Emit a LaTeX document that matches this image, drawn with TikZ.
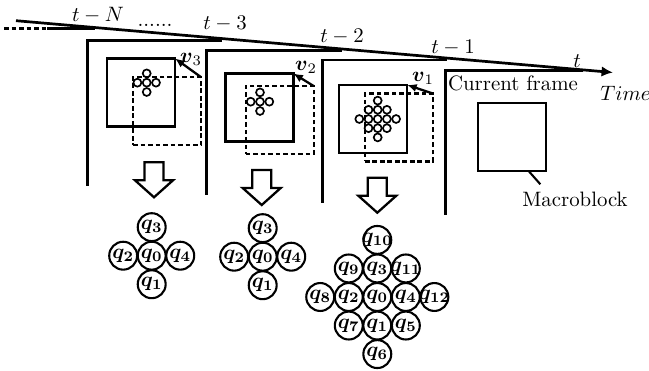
\documentclass[tikz,border=0pt]{standalone}
\usepackage{amsmath}
\usepackage{amssymb}
\usetikzlibrary{arrows.meta,positioning}

% label of a candidate block, kept out of the circle's size
\newcommand{\qlab}[1]{\makebox[0pt]{$\boldsymbol{q_{#1}}$}}

\begin{document}
\begin{tikzpicture}[x=0.48pt,y=-0.48pt,node distance=13.7pt,on grid,
    frm/.style={line width=1.2pt},
    blk/.style={draw,line width=1.1pt,minimum size=32.6pt,inner sep=0pt,outer sep=0pt},
    mv/.style={blk,dash pattern=on 2.2pt off 1.4pt},
    pel/.style={circle,draw,line width=0.8pt,minimum size=3.8pt,inner sep=0pt},
    qn/.style={circle,draw,line width=1pt,minimum size=13.4pt,inner sep=0pt},
    vec/.style={line width=1.1pt,-{Latex[length=4.5pt,width=4pt]}},
    hollow/.pic={\draw[line width=1.1pt] (0,0) -- (-19,-17) -- (-9.5,-17) -- (-9.5,-35)
      -- (9.5,-35) -- (9.5,-17) -- (19,-17) -- cycle;}]
  \useasboundingbox (0,0) rectangle (649,371);

  % time axis
  \coordinate (t0) at (16,20.7);
  \coordinate (t1) at (613,72.5);
  \draw[line width=1.3pt,-{Latex[length=5.5pt,width=5pt]}] (t0) -- (t1);

  % frames
  \draw[frm,dash pattern=on 2.2pt off 1.4pt] (4,28.7) -- (47,28.7);
  \draw[frm] (47,28.7) -- (95,28.7);
  \draw[frm] (87.3,186) |- (222,40.7);
  \draw[frm] (206.7,195) |- (342,50.7);
  \draw[frm] (322.5,203) |- (447,60);
  \draw[frm] (445.5,215) |- (583,70.7);

  \node (lN) at (98,15) {$t-N$};
  \node (ldots) at (155,25) {......};
  \node (l3) at (225,24) {$t-3$};
  \node (l2) at (342,37) {$t-2$};
  \node (l1) at (453,48) {$t-1$};
  \node (l0) at (577,61) {$t$};
  \node[anchor=west,inner sep=0pt] (ltime) at (600,93) {$Time$};

  % current frame
  \node (lcur) at (513,83) {Current frame};
  \node[blk] (mb) at (512,137) {};
  \node (lmb) at (575,199) {Macroblock};
  \draw[line width=1pt] (mb.-64) -- (lmb.157);

  % frame t-3
  \node[blk] (ref3) at (141.2,92.5) {};
  \node[mv] (cur3) at (167.2,111.2) {};
  \draw[vec] (cur3.north east) -- (ref3.north east);
  \node (v3) at (191,59) {$\boldsymbol{v}_3$};
  \foreach \i/\j in {0/0,1/0,-1/0,0/1,0/-1}
    \node[pel] (pa\i\j) at (146.7+9.3*\i,82.7+9.3*\j) {};

  % frame t-2
  \node[blk] (ref2) at (259.5,107.5) {};
  \node[mv] (cur2) at (279.7,120) {};
  \draw[vec] (cur2.north east) -- (ref2.north east);
  \node (v2) at (306,67) {$\boldsymbol{v}_2$};
  \foreach \i/\j in {0/0,1/0,-1/0,0/1,0/-1}
    \node[pel] (pb\i\j) at (260+9.3*\i,101.7+9.3*\j) {};

  % frame t-1
  \node[blk] (ref1) at (373.3,118.9) {};
  \node[mv] (cur1) at (398.9,127.5) {};
  \draw[vec] (cur1.north east) -- (ref1.north east);
  \node (v1) at (423,78) {$\boldsymbol{v}_1$};
  \foreach \i/\j in {0/-2,-1/-1,0/-1,1/-1,-2/0,-1/0,0/0,1/0,2/0,-1/1,0/1,1/1,0/2}
    \node[pel] (pc\i\j) at (377.7+9.2*\i,119+9.2*\j) {};

  \pic at (154,197.3) {hollow};
  \pic at (261.7,205) {hollow};
  \pic at (377.3,212.7) {hollow};

  % candidates for t-3
  \node[qn] (a0) at (151.7,255.7) {\qlab{0}};
  \node[qn] (a3) [above=of a0] {\qlab{3}};
  \node[qn] (a1) [below=of a0] {\qlab{1}};
  \node[qn] (a2) [left=of a0] {\qlab{2}};
  \node[qn] (a4) [right=of a0] {\qlab{4}};

  % candidates for t-2
  \node[qn] (b0) at (262.7,256.7) {\qlab{0}};
  \node[qn] (b3) [above=of b0] {\qlab{3}};
  \node[qn] (b1) [below=of b0] {\qlab{1}};
  \node[qn] (b2) [left=of b0] {\qlab{2}};
  \node[qn] (b4) [right=of b0] {\qlab{4}};

  % candidates for t-1
  \node[qn] (c0) at (377.3,297) {\qlab{0}};
  \node[qn] (c3) [above=of c0] {\qlab{3}};
  \node[qn] (c10) [above=of c3] {\qlab{10}};
  \node[qn] (c1) [below=of c0] {\qlab{1}};
  \node[qn] (c6) [below=of c1] {\qlab{6}};
  \node[qn] (c2) [left=of c0] {\qlab{2}};
  \node[qn] (c8) [left=of c2] {\qlab{8}};
  \node[qn] (c4) [right=of c0] {\qlab{4}};
  \node[qn] (c12) [right=of c4] {\qlab{12}};
  \node[qn] (c9) [above=of c2] {\qlab{9}};
  \node[qn] (c7) [below=of c2] {\qlab{7}};
  \node[qn] (c11) [above=of c4] {\qlab{11}};
  \node[qn] (c5) [below=of c4] {\qlab{5}};
\end{tikzpicture}
\end{document}
